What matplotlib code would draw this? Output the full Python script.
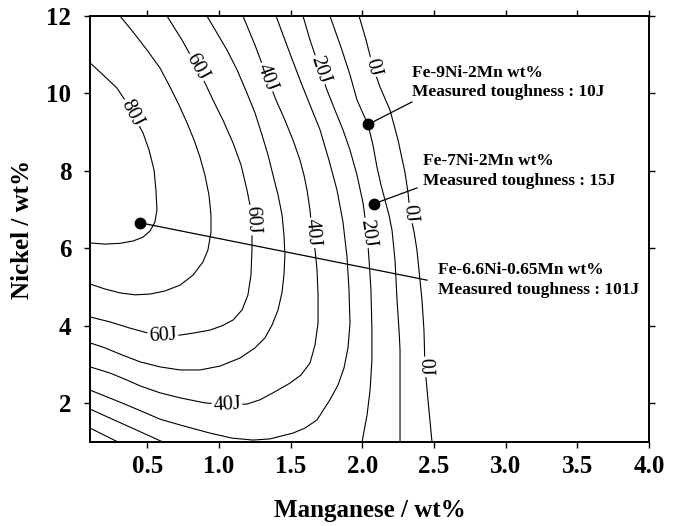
import matplotlib
matplotlib.use("Agg")
import matplotlib.pyplot as plt
import numpy as np

# ---------------- data ----------------
# contour lines of toughness (J): Mn (wt%) vs Ni (wt%)
mn_80 = [0.10, 0.191, 0.288, 0.358, 0.393, 0.47, 0.512, 0.547, 0.56, 0.567, 0.553, 0.519, 0.47, 0.40, 0.309, 0.205, 0.10]
ni_80 = [10.79, 10.48, 10.14, 9.75, 9.50, 8.98, 8.54, 8.02, 7.51, 6.99, 6.68, 6.45, 6.29, 6.19, 6.13, 6.11, 6.14]

mn_70 = [0.309, 0.40, 0.498, 0.588, 0.658, 0.721, 0.777, 0.826, 0.867, 0.902, 0.93, 0.944, 0.944,
         0.923, 0.888, 0.819, 0.728, 0.623, 0.519, 0.414, 0.309, 0.205, 0.10]
ni_70 = [12.0, 11.59, 11.12, 10.66, 10.17, 9.70, 9.24, 8.80, 8.36, 7.89, 7.38, 6.86, 6.42,
         5.96, 5.65, 5.31, 5.05, 4.90, 4.82, 4.80, 4.85, 4.95, 5.08]

mn_60 = [0.637, 0.742, 0.847, 0.909, 0.958, 1.028, 1.098, 1.154, 1.195, 1.223, 1.23, 1.23, 1.223,
         1.202, 1.161, 1.098, 1.021, 0.937, 0.833, 0.728, 0.609, 0.498, 0.379, 0.24, 0.10]
ni_60 = [12.0, 11.38, 10.68, 10.22, 9.83, 9.31, 8.72, 8.15, 7.51, 6.99, 6.47, 5.96, 5.31,
         4.80, 4.41, 4.15, 4.00, 3.89, 3.82, 3.76, 3.74, 3.82, 3.94, 4.10, 4.23]

mn_50 = [0.916, 0.986, 1.056, 1.126, 1.195, 1.251, 1.30, 1.342, 1.377, 1.412, 1.44, 1.453, 1.46, 1.453,
         1.44, 1.412, 1.37, 1.321, 1.251, 1.147, 1.007, 0.867, 0.728, 0.588, 0.449, 0.309, 0.205, 0.10]
ni_50 = [12.0, 11.56, 11.12, 10.61, 10.01, 9.50, 8.93, 8.41, 7.89, 7.38, 6.86, 6.35, 5.83, 5.31,
         4.87, 4.41, 4.02, 3.69, 3.43, 3.17, 2.96, 2.86, 2.86, 2.94, 3.07, 3.27, 3.43, 3.56]

mn_40 = [1.167, 1.251, 1.335, 1.398, 1.46, 1.516, 1.565, 1.593, 1.614, 1.635, 1.649, 1.67, 1.684, 1.691,
         1.691, 1.67, 1.635, 1.572, 1.495, 1.377, 1.286, 1.195, 1.056, 0.902, 0.728, 0.588, 0.449,
         0.358, 0.24, 0.10]
ni_40 = [12.0, 11.25, 10.42, 9.83, 9.31, 8.80, 8.28, 7.89, 7.51, 6.99, 6.40, 5.96, 5.44, 4.80,
         4.07, 3.51, 3.04, 2.73, 2.52, 2.27, 2.09, 1.98, 1.96, 2.01, 2.14, 2.27, 2.45,
         2.60, 2.78, 2.94]

mn_30 = [1.398, 1.481, 1.565, 1.635, 1.705, 1.767, 1.823, 1.865, 1.893, 1.907, 1.914, 1.90, 1.872, 1.83,
         1.774, 1.684, 1.60, 1.516, 1.356, 1.237, 1.091, 0.937, 0.728, 0.588, 0.47, 0.309, 0.10]
ni_30 = [12.0, 11.17, 10.35, 9.70, 9.06, 8.28, 7.51, 6.68, 5.78, 4.93, 4.07, 3.43, 2.91, 2.47,
         2.09, 1.57, 1.36, 1.23, 1.08, 1.05, 1.10, 1.23, 1.44, 1.59, 1.78, 2.03, 2.34]

mn_20_left = [0.10, 0.609]
ni_20_left = [1.85, 1.0]
mn_20 = [1.586, 1.635, 1.705, 1.753, 1.809, 1.865, 1.914, 1.963, 2.005, 2.033, 2.047, 2.06, 2.067,
         2.067, 2.054, 2.033, 1.998]
ni_20 = [12.0, 11.38, 10.61, 10.09, 9.57, 9.06, 8.54, 7.89, 7.17, 6.40, 5.70, 4.93, 3.89,
         3.12, 2.34, 1.70, 1.0]

mn_10_left = [0.10, 0.295]
ni_10_left = [1.36, 1.0]
mn_10 = [1.774, 1.858, 1.914, 1.963, 2.04, 2.074, 2.102, 2.13, 2.158, 2.186, 2.207, 2.228, 2.242,
         2.256, 2.263, 2.263]
ni_10 = [12.0, 11.12, 10.48, 9.83, 9.19, 8.67, 8.10, 7.64, 7.25, 6.86, 6.47, 5.70, 4.67,
         3.89, 3.38, 1.0]

mn_0 = [1.977, 2.026, 2.074, 2.123, 2.193, 2.249, 2.298, 2.319, 2.333, 2.361, 2.381, 2.416, 2.43,
        2.437, 2.458, 2.486]
ni_0 = [12.0, 11.38, 10.68, 10.17, 9.57, 8.80, 7.95, 7.43, 6.91, 6.42, 5.96, 4.67, 3.89,
        2.94, 2.09, 1.0]

contour_lines = [
    (mn_80, ni_80), (mn_70, ni_70), (mn_60, ni_60), (mn_50, ni_50),
    (mn_40, ni_40), (mn_30, ni_30), (mn_20_left, ni_20_left), (mn_20, ni_20),
    (mn_10_left, ni_10_left), (mn_10, ni_10), (mn_0, ni_0),
]
# inline labels: index of the line each sits on
label_line = [0, 2, 2, 2, 4, 4, 4, 7, 7, 10, 10, 10]
label_text = ["80J", "60J", "60J", "60J", "40J", "40J", "40J", "20J", "20J", "0J", "0J", "0J"]
label_mn = [0.393, 0.847, 1.23, 0.609, 1.335, 1.649, 1.056, 1.705, 2.033, 2.074, 2.333, 2.437]
label_ni = [9.50, 10.68, 6.73, 3.74, 10.42, 6.40, 1.96, 10.61, 6.40, 10.68, 6.91, 2.94]

# measured alloys
point_mn = [2.04, 2.08, 0.45]
point_ni = [9.20, 7.15, 6.66]
leader_mn = [2.346, 2.381, 2.451]
leader_ni = [9.78, 7.56, 5.18]
note_mn = [2.346, 2.423, 2.528]
note_ni = [10.28, 8.00, 5.18]
note_text = ["Fe-9Ni-2Mn wt%\nMeasured toughness : 10J",
             "Fe-7Ni-2Mn wt%\nMeasured toughness : 15J",
             "Fe-6.6Ni-0.65Mn wt%\nMeasured toughness : 101J"]

x_ticks = [0.5, 1.0, 1.5, 2.0, 2.5, 3.0, 3.5, 4.0]
y_ticks = [2, 4, 6, 8, 10, 12]

# ---------------- figure ----------------
SERIF = ["Liberation Serif", "DejaVu Serif"]
fig = plt.figure(figsize=(6.74, 5.26), dpi=100)
ax = fig.add_axes([90 / 674, 1 - 442 / 526, 559 / 674, 426 / 526])
ax.set_xlim(0.1, 4.0)
ax.set_ylim(1.0, 12.0)

for mn, ni in contour_lines:
    ax.plot(mn, ni, color="black", lw=0.8, zorder=2, solid_joinstyle="round")


def local_angle(xs, ys, x0, y0):
    pts = ax.transData.transform(np.column_stack([xs, ys]))
    p0 = ax.transData.transform((x0, y0))
    best = None
    for i in range(len(pts) - 1):
        a, b = pts[i], pts[i + 1]
        d = b - a
        t = np.clip(np.dot(p0 - a, d) / np.dot(d, d), 0, 1)
        dist = np.linalg.norm(a + t * d - p0)
        if best is None or dist < best[0]:
            best = (dist, d)
    ang = np.degrees(np.arctan2(best[1][1], best[1][0]))
    if ang > 90:
        ang -= 180
    if ang <= -90:
        ang += 180
    return ang


for li, txt, x0, y0 in zip(label_line, label_text, label_mn, label_ni):
    xs, ys = contour_lines[li]
    ang = local_angle(xs, ys, x0, y0)
    ax.text(x0, y0, txt, rotation=ang, rotation_mode="anchor", ha="center", va="center",
            fontsize=14.5, family=SERIF, zorder=4,
            bbox=dict(facecolor="white", edgecolor="none", pad=1.0))

for px, py, lx, ly in zip(point_mn, point_ni, leader_mn, leader_ni):
    ax.plot([px, lx], [py, ly], color="black", lw=0.9, zorder=5)
ax.plot(point_mn, point_ni, "o", color="black", markersize=7.5, zorder=6)
for tx, ty, t in zip(note_mn, note_ni, note_text):
    ax.text(tx, ty, t, ha="left", va="center", fontsize=12.5, fontweight="bold",
            family=SERIF, linespacing=1.3, zorder=6)

ax.set_xticks(x_ticks)
ax.set_xticklabels([f"{v:.1f}" for v in x_ticks])
ax.set_yticks(y_ticks)
ax.set_yticklabels([str(v) for v in y_ticks])
ax.tick_params(direction="out", length=4.5, width=1.0, top=True, right=True,
               labeltop=False, labelright=False)
ax.tick_params(axis="x", pad=5)
ax.tick_params(axis="y", pad=9)
for lab in ax.get_xticklabels() + ax.get_yticklabels():
    lab.set_family(SERIF)
    lab.set_fontweight("bold")
    lab.set_fontsize(18)
for s in ax.spines.values():
    s.set_linewidth(1.4)

fig.text((90 + 649) / 2 / 674, 1 - 510 / 526, "Manganese / wt%", ha="center", va="center",
         fontsize=18, fontweight="bold", family=SERIF)
fig.text(23 / 674, 1 - 229 / 526, "Nickel / wt%", ha="center", va="center", rotation=90,
         fontsize=18, fontweight="bold", family=SERIF)

fig.savefig("out.png", dpi=100)
